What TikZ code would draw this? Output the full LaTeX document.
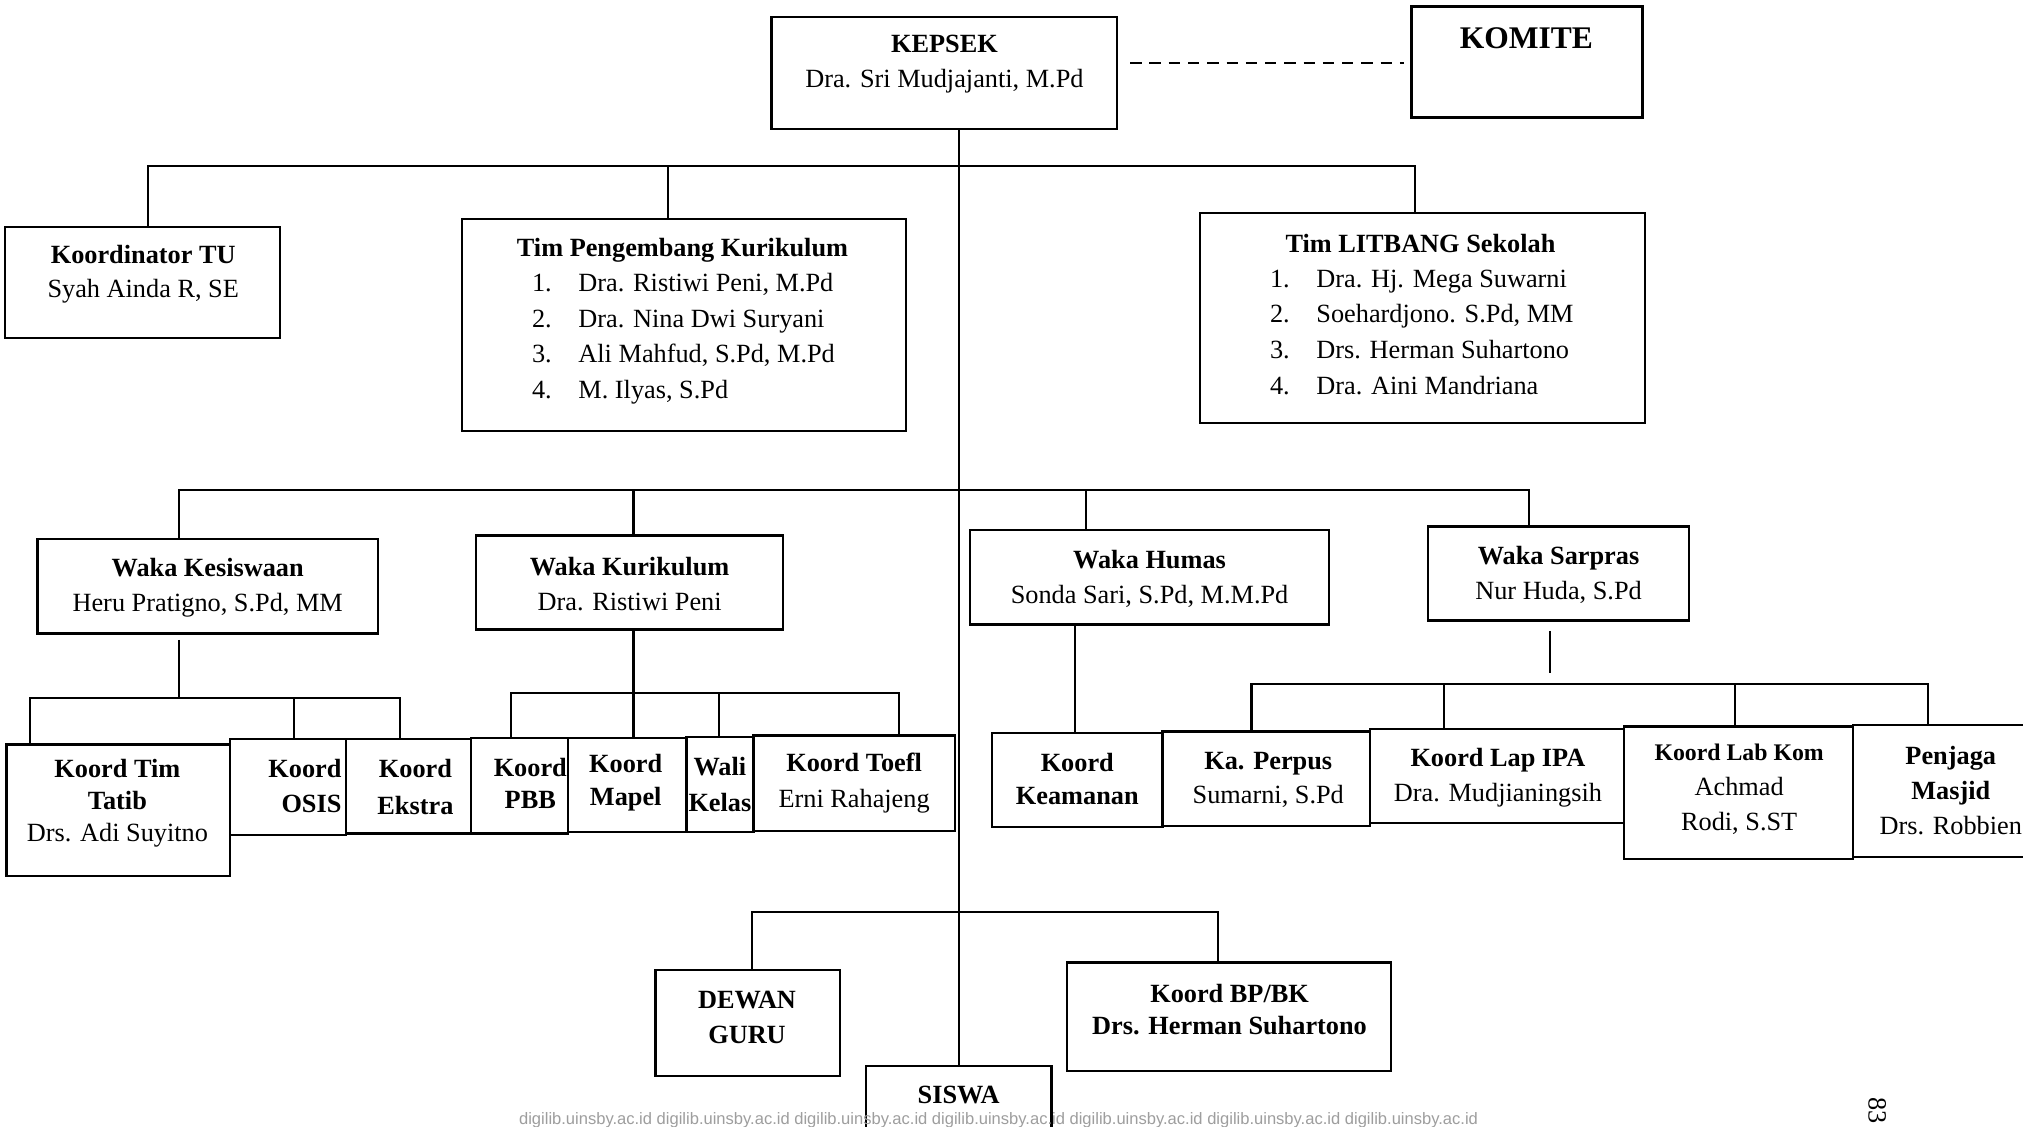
\documentclass[tikz,border=0pt]{standalone}
\usepackage{fontspec}
\setmainfont{Liberation Serif}
\newfontfamily\wmfont{Liberation Sans}
\usetikzlibrary{fit}
\begin{document}
\begin{tikzpicture}[x=0.02cm, y=-0.02cm,
  box/.style={draw, line width=1.0pt, inner sep=0pt},
  conn/.style={line width=0.9pt},
  txt/.style={inner sep=0pt, align=center, font=\fontsize{11.6}{15.4}\selectfont},
  lst/.style={inner sep=0pt, anchor=west, align=left, font=\fontsize{11.6}{15.7}\selectfont}]
\useasboundingbox (0,0) rectangle (1568,873);
\fill[white] (0,0) rectangle (1568,873);
\clip (0,0) rectangle (1568,873);

% ---------- boxes ----------
\node[box, fit={(598,13) (866,100)}] (kepsek) {};
\node[box, fit={(1094,5) (1273,91)}] (komite) {};
\node[box, fit={(4,176) (217,262)}] (tu) {};
\node[box, fit={(358,170) (702,334)}] (tim) {};
\node[box, fit={(930,165) (1275,328)}] (lit) {};
\node[box, fit={(29,418) (293,491)}] (kes) {};
\node[box, fit={(369,415) (607,488)}] (kur) {};
\node[box, fit={(752,411) (1030,484)}] (hum) {};
\node[box, fit={(1107,408) (1309,481)}] (sar) {};
\node[box, fit={(5,577) (178,679)}] (tatib) {};
\node[box, fit={(178,573) (268,647)}] (osis) {};
\node[box, fit={(268,573) (365,646)}] (ekstra) {};
\node[box, fit={(365,572) (440,646)}] (pbb) {};
\node[box, fit={(440,572) (532,645)}] (mapel) {};
\node[box, fit={(532,571) (584,645)}] (wali) {};
\node[box, fit={(584,570) (740,644)}] (toefl) {};
\node[box, fit={(769,568) (901,641)}] (aman) {};
\node[box, fit={(901,567) (1062,640)}] (perpus) {};
\node[box, fit={(1062,565) (1259,638)}] (ipa) {};
\node[box, fit={(1259,563) (1436,666)}] (labkom) {};
\node[box, fit={(1436,562) (1600,664)}] (masjid) {};
\node[box, fit={(508,752) (651,834)}] (dewan) {};
\node[box, fit={(827,746) (1078,830)}] (bpbk) {};
\node[box, fit={(671,826) (815,920)}] (siswa) {};

% ---------- texts ----------
\node[txt] (kepsek-t) at (732,49.5) {\textbf{KEPSEK}\\Dra. Sri Mudjajanti, M.Pd};
\node[txt, font=\fontsize{13.9}{16}\selectfont] (komite-t) at (1183,30) {\textbf{KOMITE}};
\node[txt] (tu-t) at (111,212.5) {\textbf{Koordinator TU}\\Syah Ainda R, SE};
\node[txt] (tim-t) at (529,194) {\textbf{Tim Pengembang Kurikulum}};
\node[lst] (tim-l) at (412,262.5) {\makebox[0.72cm][l]{1.}Dra. Ristiwi Peni, M.Pd\\
  \makebox[0.72cm][l]{2.}Dra. Nina Dwi Suryani\\
  \makebox[0.72cm][l]{3.}Ali Mahfud, S.Pd, M.Pd\\
  \makebox[0.72cm][l]{4.}M. Ilyas, S.Pd};
\node[txt] (lit-t) at (1101,189) {\textbf{Tim LITBANG Sekolah}};
\node[lst] (lit-l) at (984,257.5) {\makebox[0.72cm][l]{1.}Dra. Hj. Mega Suwarni\\
  \makebox[0.72cm][l]{2.}Soehardjono. S.Pd, MM\\
  \makebox[0.72cm][l]{3.}Drs. Herman Suhartono\\
  \makebox[0.72cm][l]{4.}Dra. Aini Mandriana};
\node[txt] (kes-t) at (161,455.5) {\textbf{Waka Kesiswaan}\\Heru Pratigno, S.Pd, MM};
\node[txt] (kur-t) at (488,452.5) {\textbf{Waka Kurikulum}\\Dra. Ristiwi Peni};
\node[txt] (hum-t) at (891,448.5) {\textbf{Waka Humas}\\Sonda Sari, S.Pd, M.M.Pd};
\node[txt] (sar-t) at (1208,445.5) {\textbf{Waka Sarpras}\\Nur Huda, S.Pd};
\node[txt, font=\fontsize{11.6}{14}\selectfont] (tatib-t) at (91,622.5) {\textbf{Koord Tim}\\\textbf{Tatib}\\Drs. Adi Suyitno};
\node[txt, align=right, anchor=east] (osis-t) at (265,609) {\textbf{Koord}\\\textbf{OSIS}};
\node[txt, font=\fontsize{11.6}{16}\selectfont] (ekstra-t) at (322,610) {\textbf{Koord}\\\textbf{Ekstra}};
\node[txt, font=\fontsize{11.6}{14}\selectfont] (pbb-t) at (411,607) {\textbf{Koord}\\\textbf{PBB}};
\node[txt, font=\fontsize{11.6}{14.5}\selectfont] (mapel-t) at (485,606.5) {\textbf{Koord}\\\textbf{Mapel}};
\node[txt, font=\fontsize{11.6}{16}\selectfont] (wali-t) at (558,608) {\textbf{Wali}\\\textbf{Kelas}};
\node[txt, font=\fontsize{11.6}{16}\selectfont] (toefl-t) at (662,607) {\textbf{Koord Toefl}\\Erni Rahajeng};
\node[txt, font=\fontsize{11.6}{14.5}\selectfont] (aman-t) at (835,603.5) {\textbf{Koord}\\\textbf{Keamanan}};
\node[txt] (perpus-t) at (983,604.5) {\textbf{Ka. Perpus}\\Sumarni, S.Pd};
\node[txt] (ipa-t) at (1161,602.5) {\textbf{Koord Lap IPA}\\Dra. Mudjianingsih};
\node[txt] (labkom-t) at (1348,612) {{\fontsize{10.5}{15}\selectfont\textbf{Koord Lab Kom}}\\Achmad\\Rodi, S.ST};
\node[txt] (masjid-t) at (1512,612.5) {\textbf{Penjaga}\\\textbf{Masjid}\\Drs. Robbien};
\node[txt] (dewan-t) at (579,788.5) {\textbf{DEWAN}\\\textbf{GURU}};
\node[txt, font=\fontsize{11.6}{14.5}\selectfont] (bpbk-t) at (953,782.5) {\textbf{Koord BP/BK}\\\textbf{Drs. Herman Suhartono}};
\node[txt] (siswa-t) at (743,849) {\textbf{SISWA}};

% ---------- connectors ----------
% main spine
\draw[conn] (kepsek.south -| siswa.north) -- (siswa.north);
% dashed link to komite
\coordinate (dashA) at (876,49);
\coordinate (dashB) at (1088,49);
\draw[conn, dash pattern=on 5pt off 3.5pt] (dashA) -- (dashB);
% level 1
\coordinate (b1L) at (115,129);
\coordinate (b1M) at (518,129);
\coordinate (b1R) at (1097,129);
\draw[conn] (tu.north -| b1L) -- (b1L) -- (b1R) -- (b1R |- lit.north);
\draw[conn] (b1M) -- (b1M |- tim.north);
% level 2
\coordinate (b2A) at (139,380);
\coordinate (b2B) at (491,380);
\coordinate (b2C) at (842,380);
\coordinate (b2D) at (1185,380);
\draw[conn] (b2A |- kes.north) -- (b2A) -- (b2D) -- (b2D |- sar.north);
\draw[conn] (b2B) -- (b2B |- kur.north);
\draw[conn] (b2C) -- (b2C |- hum.north);
% kesiswaan children
\coordinate (k0) at (139,496);
\coordinate (kA) at (23,541);
\coordinate (kB) at (228,541);
\coordinate (kC) at (310,541);
\draw[conn] (k0) -- (k0 |- kA);
\draw[conn] (kA |- tatib.north) -- (kA) -- (kC) -- (kC |- ekstra.north);
\draw[conn] (kB) -- (kB |- osis.north);
% kurikulum children
\coordinate (uA) at (396,537);
\coordinate (uB) at (491,537);
\coordinate (uC) at (557,537);
\coordinate (uD) at (697,537);
\draw[conn] (uB |- kur.south) -- (uB) -- (uB |- mapel.north);
\draw[conn] (uA |- pbb.north) -- (uA) -- (uD) -- (uD |- toefl.north);
\draw[conn] (uC) -- (uC |- wali.north);
% humas child
\coordinate (hX) at (833,500);
\draw[conn] (hX |- hum.south) -- (hX |- aman.north);
% sarpras children
\coordinate (s0) at (1201,489);
\coordinate (s1) at (1201,522);
\coordinate (sA) at (970,530);
\coordinate (sB) at (1119,530);
\coordinate (sC) at (1345,530);
\coordinate (sD) at (1494,530);
\draw[conn] (s0) -- (s1);
\draw[conn] (sA |- perpus.north) -- (sA) -- (sD) -- (sD |- masjid.north);
\draw[conn] (sB) -- (sB |- ipa.north);
\draw[conn] (sC) -- (sC |- labkom.north);
% bottom
\coordinate (gA) at (583,707);
\coordinate (gB) at (944,707);
\draw[conn] (gA |- dewan.north) -- (gA) -- (gB) -- (gB |- bpbk.north);

% ---------- watermark and page number ----------
\node[inner sep=0pt, text=black!38, font={\wmfont\fontsize{7.3}{8}\selectfont}] (wm) at (774,868)
  {digilib.uinsby.ac.id digilib.uinsby.ac.id digilib.uinsby.ac.id digilib.uinsby.ac.id digilib.uinsby.ac.id digilib.uinsby.ac.id digilib.uinsby.ac.id};
\node[inner sep=0pt, rotate=-90, font=\fontsize{11.6}{12}\selectfont] (pg) at (1455,861) {83};
\end{tikzpicture}
\end{document}
